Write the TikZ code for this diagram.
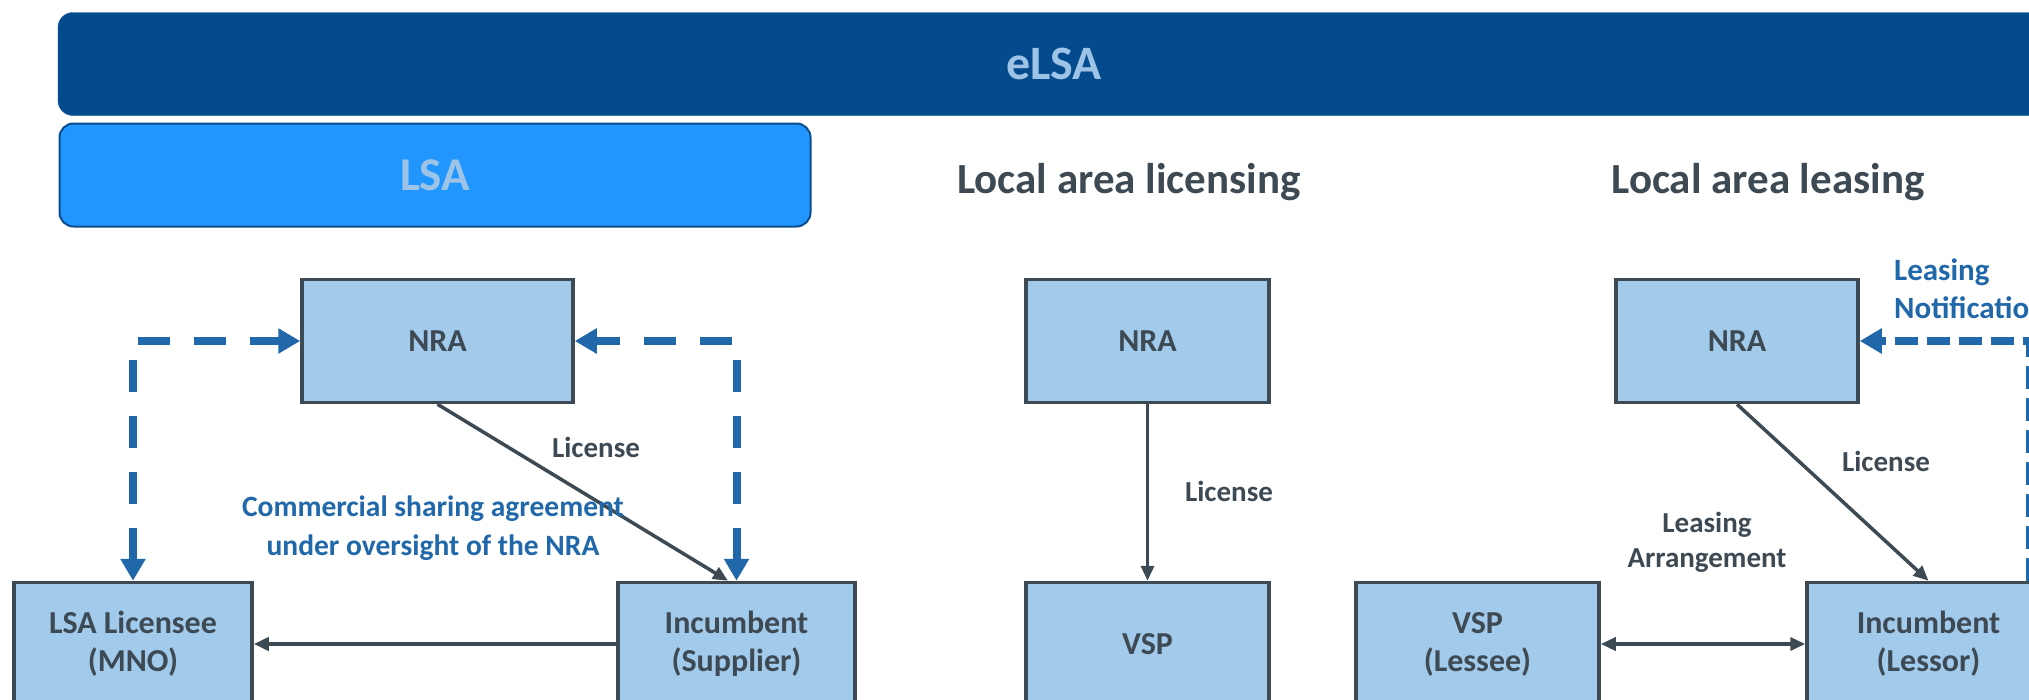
\documentclass[tikz,border=0pt]{standalone}
\usepackage{fontspec}
\setmainfont{Carlito}
\usetikzlibrary{arrows.meta}
\definecolor{barblue}{HTML}{034B8D}
\definecolor{lsablue}{HTML}{2196FF}
\definecolor{lsaline}{HTML}{0B4E8E}
\definecolor{lighttext}{HTML}{9DC3E6}
\definecolor{boxfill}{HTML}{A1CAEB}
\definecolor{darkline}{HTML}{3E4A53}
\definecolor{dashblue}{HTML}{2068A9}
\begin{document}
\begin{tikzpicture}[x=1pt,y=-1pt,
  box/.style={draw=darkline,line width=3.5pt,fill=boxfill,minimum height=123pt,inner sep=0pt,align=center,text=darkline,font=\bfseries\fontsize{32}{38}\selectfont},
  heading/.style={text=darkline,font=\bfseries\fontsize{43}{52}\selectfont,inner sep=0pt,anchor=base},
  lbl/.style={text=darkline,font=\bfseries\fontsize{29}{35}\selectfont,align=center,inner sep=0pt},
  bluelbl/.style={text=dashblue,font=\bfseries\fontsize{29.5}{39}\selectfont,align=center,inner sep=0pt},
  conn/.style={draw=darkline,line width=3.5pt,-{Triangle[length=15pt,width=13pt]}},
  dashconn/.style={draw=dashblue,line width=8pt,dash pattern=on 32pt off 24pt},
  dtip/.tip={Triangle[length=22pt,width=24pt]}
]
\useasboundingbox (0,0) rectangle (2029,699);
\clip (0,0) rectangle (2029,699);
\fill[white] (0,0) rectangle (2029,699);

% top bars
\node[draw=barblue,fill=barblue,rounded corners=15pt,minimum width=1992pt,minimum height=103pt,inner sep=0pt,
      text=lighttext,font=\bfseries\fontsize{48}{56}\selectfont] (elsa) at (1054,64) {eLSA};
\node[draw=lsaline,line width=2pt,fill=lsablue,rounded corners=14pt,minimum width=751pt,minimum height=103pt,inner sep=0pt,
      text=lighttext,font=\bfseries\fontsize{47}{56}\selectfont] (lsa) at (435,175) {LSA};
\node[heading] (hlic) at (1129,193) {Local area licensing};
\node[heading] (hlea) at (1768,193) {Local area leasing};

% section 1
\node[box,minimum width=271pt] (nra1) at (437.5,341) {NRA};
\node[box,minimum width=238pt] (lic) at (133,644) {LSA Licensee\\(MNO)};
\node[box,minimum width=237pt] (inc1) at (736.5,644) {Incumbent\\(Supplier)};
\draw[dashconn,{dtip}-{dtip}] (lic.north) |- (nra1.west);
\draw[dashconn,{dtip}-{dtip}] (inc1.north) |- (nra1.east);
\draw[conn] (nra1.south) -- ([xshift=-8.5pt]inc1.north);
\draw[conn,line width=4.5pt] (inc1.west) -- (lic.east);
\node[lbl] (l1) at (596,447) {License};
\node[bluelbl] (comm) at (433,528) {Commercial sharing agreement\\under oversight of the NRA};

% section 2
\node[box,minimum width=243pt] (nra2) at (1147.5,341) {NRA};
\node[box,minimum width=243pt] (vsp) at (1147.5,644) {VSP};
\draw[conn] (nra2.south) -- (vsp.north);
\node[lbl] (l2) at (1229,491) {License};

% section 3
\node[box,minimum width=242pt] (nra3) at (1737,341) {NRA};
\node[box,minimum width=243pt] (vsp3) at (1477.5,644) {VSP\\(Lessee)};
\node[box,minimum width=243pt] (inc3) at (1928.5,644) {Incumbent\\(Lessor)};
\draw[conn] (nra3.south) -- (inc3.north);
\draw[conn,{Triangle[length=15pt,width=13pt]}-{Triangle[length=15pt,width=13pt]}] (vsp3.east) -- (inc3.west);
\draw[dashconn,dash pattern=on 23pt off 9pt,-{dtip}] ([xshift=101.5pt]inc3.north) |- (nra3.east);
\node[lbl] (l3) at (1886,461) {License};
\node[lbl] (la) at (1707,542) {Leasing\\Arrangement};
\node[bluelbl,align=left,anchor=west,font=\bfseries\fontsize{31}{38}\selectfont] (ln) at (1894,289) {Leasing\\Notification};
\end{tikzpicture}
\end{document}
